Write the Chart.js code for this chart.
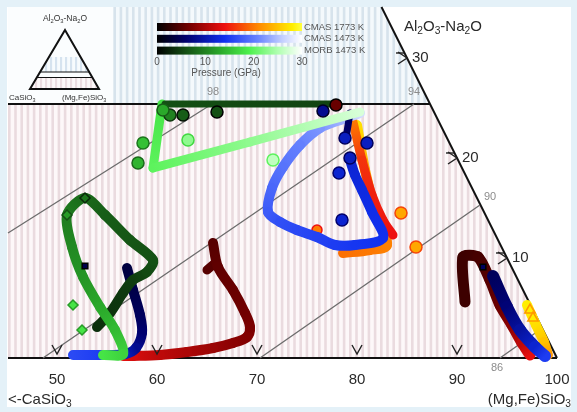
<!DOCTYPE html>
<html>
<head>
<meta charset="utf-8">
<script src="https://cdn.jsdelivr.net/npm/chart.js@4.4.1/dist/chart.umd.min.js"></script>
<style>
  html, body { margin: 0; padding: 0; background: #e4f1f8; }
</style>
</head>
<body>
<canvas id="tern" width="577" height="412"></canvas>
<script>
// axes: x = position on the (Mg,Fe)SiO3 scale, y = Al2O3-Na2O
const bottomTicks = [50, 60, 70, 80, 90, 100];
const rightTicks = [10, 20, 30];
const legendTicks = [0, 10, 20, 30];
const legendNames = ['CMAS 1773 K', 'CMAS 1473 K', 'MORB 1473 K'];
const splitAl = 25.4;

// iso lines (98, 94, 90, 86)
const isoNames = ['98', '94', '90', '86'];
const isoX0 = [45.1, 48.6, 70.3, 94.3];
const isoY0 = [12.5, 0, 0, 0];
const isoX1 = [65.5, 85.7, 92.3, 98.4];
const isoY1 = [25.4, 25.4, 15.3, 2.9];

// pressure ramps (GPa)
const rampRed = [[0, '#000000'], [7, '#7a0000'], [14, '#ee1010'], [21, '#ff8a00'], [28, '#ffee00'], [30, '#ffff40']];
const rampBlue = [[0, '#000000'], [6, '#00006e'], [14, '#1030f0'], [21, '#6a86ff'], [26, '#c4d0ff'], [30, '#ffffff']];
const rampGreen = [[0, '#000000'], [6, '#145014'], [13, '#2aa82a'], [19, '#4cf04c'], [25, '#b0ffb0'], [30, '#ffffff']];

// CMAS 1773 K paths
const hotJx = [65.6, 66.1, 67.6, 68.8, 69.3, 69.0, 67.6, 65.6, 63.0, 60.3, 57.6, 56.6];
const hotJy = [11.5, 9.1, 6.8, 4.5, 3.1, 2.1, 1.5, 1.0, 0.6, 0.3, 0.2, 0.2];
const hotJp = [5, 5.5, 6, 6.5, 7, 7.5, 8, 9, 10, 11, 12.5, 13.5];
const hotHookx = [65.0, 65.7];
const hotHooky = [8.8, 9.4];
const hotHookp = [5, 5];
const hotBandx = [79.6, 80.5, 81.5, 82.6, 83.6];
const hotBandy = [23.6, 19.8, 16.3, 13.8, 12.3];
const hotBandp = [20, 16, 15, 14.5, 14];
const hotBand2x = [80.0, 80.8, 81.8, 83.0, 81.3, 78.6];
const hotBand2y = [23.3, 18.8, 14.8, 11.3, 10.8, 10.5];
const hotBand2p = [27, 23, 21.5, 20.5, 20, 19.5];
const hotRx = [90.8, 90.6, 92.1, 93.3, 94.3, 95.5, 96.5, 97.3];
const hotRy = [5.6, 10.1, 10.1, 7.8, 5.3, 3.3, 1.5, 0.3];
const hotRp = [3.5, 3.5, 4, 5, 6, 8, 11, 13.5];
const hotYx = [97.0, 97.9, 98.7, 99.1];
const hotYy = [5.3, 3.3, 1.6, 0.3];
const hotYp = [28, 27, 25, 22];

// CMAS 1473 K paths
const kiteX = [80.3, 78.3, 76.3, 74.3, 72.6, 71.5, 71.1, 72.3, 74.0, 76.0, 77.8, 79.8, 82.6, 81.5, 80.5, 79.8, 79.3];
const kiteY = [24.5, 23.8, 23.0, 21.3, 19.1, 17.0, 14.6, 13.6, 12.8, 12.1, 11.3, 11.3, 12.0, 14.6, 16.8, 18.3, 19.8];
const kiteP = [27, 24, 22, 20.5, 19.5, 18.5, 17.5, 16.5, 16, 15.5, 15, 14.5, 14, 13.5, 13, 12.5, 12];
const coolTopx = [79.3, 78.9];
const coolTopy = [24.5, 22.0];
const coolTopp = [5, 6];
const coolRx = [93.6, 95.0, 96.3, 97.8, 98.8];
const coolRy = [8.2, 5.1, 2.8, 1.1, 0.2];
const coolRp = [5, 6.5, 9, 12, 15];
const coolLx = [57.0, 57.6, 58.3, 58.5, 57.9, 56.8, 54.3, 51.6];
const coolLy = [9.0, 6.8, 4.3, 2.5, 1.0, 0.4, 0.3, 0.3];
const coolLp = [3.5, 4, 5, 6, 8, 11, 15, 16];

// MORB 1473 K paths
const loopX = [54.0, 55.3, 56.6, 57.6, 59.0, 59.6, 57.3, 54.8, 52.8, 51.0, 51.5, 52.6, 54.3, 55.8, 56.6, 54.6];
const loopY = [3.1, 4.5, 6.5, 7.8, 8.6, 9.8, 11.8, 14.3, 16.0, 14.3, 11.1, 8.1, 5.1, 2.8, 0.4, 0.3];
const loopP = [3.5, 3.8, 4.2, 4.6, 5.5, 6, 6.5, 7, 8, 9.5, 10.5, 11.5, 13, 14.5, 16.5, 18];
const barX = [77.8, 60.8];
const barY = [25.4, 25.4];
const barP = [5, 6];
const triX = [60.5, 59.6, 69.3, 80.3];
const triY = [25.4, 19.0, 21.6, 24.6];
const triP = [18, 20, 23, 27.5];

// single measurements
const greenDotX = [58.6, 58.1, 63.1, 71.6, 61.3, 62.6, 66.0, 60.6];
const greenDotY = [21.5, 19.5, 21.8, 19.8, 24.3, 24.3, 24.6, 24.8];
const greenDotP = [15, 14, 23, 26, 10, 7, 6, 13];
const greenDiaX = [52.8, 51.0, 51.6, 52.5];
const greenDiaY = [16.0, 14.3, 5.3, 2.8];
const greenDiaP = [9, 12, 18, 18];
const blueDotX = [76.6, 78.8, 81.0, 79.3, 78.2, 78.5];
const blueDotY = [24.7, 22.0, 21.5, 20.0, 18.5, 13.8];
const blueDotP = [8, 11, 11, 11, 12, 12];
const blueSqX = [52.8, 92.6];
const blueSqY = [9.2, 9.1];
const blueSqP = [4, 5];
const redDotX = [77.9, 84.4, 85.9];
const redDotY = [25.3, 14.5, 11.1];
const redDotP = [6, 23, 23];
const tanDotX = [76.0];
const tanDotY = [12.8];
const tanDotP = [20];
const yelTriX = [97.3, 97.6];
const yelTriY = [4.8, 4.0];
const yelTriP = [28, 28];

const FONT = '"Liberation Sans", Arial, sans-serif';

function hex(c) { return [1, 3, 5].map(i => parseInt(c.slice(i, i + 2), 16)); }
function rampColor(ramp, p) {
    p = Math.max(ramp[0][0], Math.min(ramp[ramp.length - 1][0], p));
    for (let i = 1; i < ramp.length; i++) {
        if (p <= ramp[i][0]) {
            const [p0, c0] = ramp[i - 1], [p1, c1] = ramp[i];
            const t = (p - p0) / (p1 - p0);
            const a = hex(c0), b = hex(c1);
            return 'rgb(' + a.map((v, k) => Math.round(v + (b[k] - v) * t)).join(',') + ')';
        }
    }
    return ramp[ramp.length - 1][1];
}

function track(xs, ys, ps, ramp, width, order, tension) {
    return {
        type: 'line',
        data: xs.map((x, i) => ({ x, y: ys[i], p: ps[i] })),
        borderWidth: width,
        borderCapStyle: 'round',
        borderJoinStyle: 'round',
        pointRadius: 0,
        tension: tension === undefined ? 0.35 : tension,
        order,
        segment: {
            borderColor: c => {
                const g = c.chart.ctx.createLinearGradient(c.p0.x, c.p0.y, c.p1.x, c.p1.y);
                g.addColorStop(0, rampColor(ramp, c.p0.raw.p));
                g.addColorStop(1, rampColor(ramp, c.p1.raw.p));
                return g;
            }
        }
    };
}

function dots(xs, ys, ps, ramp, style, radius, order) {
    return {
        type: 'scatter',
        data: xs.map((x, i) => ({ x, y: ys[i] })),
        pointStyle: style,
        pointRadius: radius,
        pointBackgroundColor: ps.map(p => rampColor(ramp, p)),
        pointBorderColor: ps.map(p => rampColor(ramp, Math.max(0, p - 6))),
        pointBorderWidth: 1.5,
        order
    };
}

function plain(pts, color, width, order) {
    return { type: 'line', data: pts, borderColor: color, borderWidth: width, pointRadius: 0, tension: 0, order };
}

const datasets = [
    plain([{ x: 45.1, y: 0 }, { x: 100, y: 0 }], '#111', 2, 100),
    plain([{ x: 100, y: 0 }, { x: 100 - 35.1 / 2, y: 35.1 }], '#111', 2, 100),
    plain([{ x: 45.1, y: splitAl }, { x: 100 - splitAl / 2, y: splitAl }], '#111', 1.8, 100),
    ...isoNames.map((n, i) => plain([{ x: isoX0[i], y: isoY0[i] }, { x: isoX1[i], y: isoY1[i] }], '#6c6c6c', 1.3, 99)),

    dots(tanDotX, tanDotY, tanDotP, rampRed, 'circle', 5, 70),
    track(hotBand2x, hotBand2y, hotBand2p, rampRed, 10, 60),
    track(hotBandx, hotBandy, hotBandp, rampRed, 9, 59),
    track(hotJx, hotJy, hotJp, rampRed, 10, 55),
    track(hotHookx, hotHooky, hotHookp, rampRed, 9, 55, 0),
    track(hotRx, hotRy, hotRp, rampRed, 11, 55, 0.25),
    track(hotYx, hotYy, hotYp, rampRed, 10, 56),
    track(coolRx, coolRy, coolRp, rampBlue, 12, 52),
    track(coolLx, coolLy, coolLp, rampBlue, 10, 50),
    track(kiteX, kiteY, kiteP, rampBlue, 10, 48, 0.3),
    track(coolTopx, coolTopy, coolTopp, rampBlue, 7, 47, 0),
    track(loopX, loopY, loopP, rampGreen, 10, 44, 0.3),
    track(triX, triY, triP, rampGreen, 9, 42, 0),
    track(barX, barY, barP, rampGreen, 7, 41, 0),

    dots(greenDotX, greenDotY, greenDotP, rampGreen, 'circle', 6, 10),
    dots(greenDiaX, greenDiaY, greenDiaP, rampGreen, 'rectRot', 5, 10),
    dots(blueDotX, blueDotY, blueDotP, rampBlue, 'circle', 6, 10),
    dots(blueSqX, blueSqY, blueSqP, rampBlue, 'rect', 4, 10),
    dots(redDotX, redDotY, redDotP, rampRed, 'circle', 6, 10),
    dots(yelTriX, yelTriY, yelTriP, rampRed, 'triangle', 6, 10)
];

function stripeFill(ctx, x0, y0, x1, y1, bg, fg, step) {
    ctx.fillStyle = bg;
    ctx.fillRect(x0, y0, x1 - x0, y1 - y0);
    ctx.fillStyle = fg;
    for (let sx = x0; sx < x1; sx += step) ctx.fillRect(sx, y0, step * 0.42, y1 - y0);
}

function subText(ctx, str, x, y, size, align) {
    const parts = [];
    for (let i = 0; i < str.length; i++) {
        if (str[i] === '_') { parts.push([str[i + 1], true]); i++; }
        else parts.push([str[i], false]);
    }
    const big = size + 'px ' + FONT, small = (size * 0.68).toFixed(1) + 'px ' + FONT;
    let w = 0;
    parts.forEach(([ch, sub]) => { ctx.font = sub ? small : big; w += ctx.measureText(ch).width; });
    let cx = align === 'center' ? x - w / 2 : align === 'right' ? x - w : x;
    ctx.textAlign = 'left';
    ctx.textBaseline = 'middle';
    parts.forEach(([ch, sub]) => {
        ctx.font = sub ? small : big;
        ctx.fillText(ch, cx, sub ? y + size * 0.3 : y);
        cx += ctx.measureText(ch).width;
    });
}

const backdrop = {
    id: 'backdrop',
    beforeDatasetsDraw(chart) {
        const { ctx, scales: { x, y } } = chart;
        const W = chart.width, H = chart.height;
        const edgeX = a => x.getPixelForValue(100 - a / 2);
        const left = x.getPixelForValue(45.1);
        const base = y.getPixelForValue(0), cut = y.getPixelForValue(splitAl), top = y.getPixelForValue(35.1);
        ctx.save();
        ctx.fillStyle = '#e4f1f8';
        ctx.fillRect(0, 0, W, H);
        ctx.fillStyle = '#ffffff';
        ctx.fillRect(7, 7, W - 13, H - 12);

        // upper band
        ctx.save();
        ctx.beginPath();
        ctx.moveTo(left, top); ctx.lineTo(edgeX(35.1), top); ctx.lineTo(edgeX(splitAl), cut); ctx.lineTo(left, cut);
        ctx.closePath(); ctx.clip();
        stripeFill(ctx, left, top, W, cut, '#f4f9fc', '#d7e3ec', 6.2);
        ctx.restore();

        // lower band
        ctx.save();
        ctx.beginPath();
        ctx.moveTo(left, cut); ctx.lineTo(edgeX(splitAl), cut); ctx.lineTo(edgeX(0), base); ctx.lineTo(left, base);
        ctx.closePath(); ctx.clip();
        stripeFill(ctx, left, cut, W, base, '#fdf8f9', '#eadbdf', 6.2);
        ctx.restore();

        // small key triangle
        ctx.fillStyle = '#fbfdfe';
        ctx.fillRect(left, top, 105, cut - top - 1);
        const ax = 65, ay = 30, bl = 30, br = 99, by = 89;
        const lx = yy => ax - (yy - ay) * (ax - bl) / (by - ay);
        const rx = yy => ax + (yy - ay) * (br - ax) / (by - ay);
        ctx.save();
        ctx.beginPath(); ctx.moveTo(ax, ay); ctx.lineTo(br, by); ctx.lineTo(bl, by); ctx.closePath(); ctx.clip();
        stripeFill(ctx, 30, 57, 100, 72, '#f7fbfd', '#d6e3ef', 5);
        stripeFill(ctx, 30, 77.5, 100, 89, '#fdf8f9', '#ecdde1', 5);
        ctx.restore();
        ctx.strokeStyle = '#111';
        ctx.lineWidth = 2;
        ctx.beginPath(); ctx.moveTo(ax, ay); ctx.lineTo(br, by); ctx.lineTo(bl, by); ctx.closePath(); ctx.stroke();
        ctx.lineWidth = 1.2;
        [72, 77.5].forEach(yy => { ctx.beginPath(); ctx.moveTo(lx(yy), yy); ctx.lineTo(rx(yy), yy); ctx.stroke(); });
        ctx.fillStyle = '#333';
        subText(ctx, 'Al_2O_3-Na_2O', 65, 19, 8.5, 'center');
        subText(ctx, 'CaSiO_3', 9, 98, 8, 'left');
        subText(ctx, '(Mg,Fe)SiO_3', 62, 98, 8, 'left');

        // pressure key
        const kx0 = 157, kx1 = 302;
        [rampRed, rampBlue, rampGreen].forEach((ramp, i) => {
            const g = ctx.createLinearGradient(kx0, 0, kx1, 0);
            ramp.forEach(([p, c]) => g.addColorStop(p / 30, c));
            ctx.fillStyle = g;
            ctx.fillRect(kx0, 23 + i * 11.8, kx1 - kx0, 8);
            ctx.fillStyle = '#555';
            ctx.font = '9.5px ' + FONT;
            ctx.textAlign = 'left';
            ctx.textBaseline = 'middle';
            ctx.fillText(legendNames[i], kx1 + 2, 27 + i * 11.8);
        });
        ctx.font = '10px ' + FONT;
        ctx.textAlign = 'center';
        legendTicks.forEach(t => ctx.fillText(String(t), kx0 + (kx1 - kx0) * t / 30, 62));
        ctx.fillText('Pressure (GPa)', 226, 73);
        ctx.restore();
    }
};

const annotate = {
    id: 'annotate',
    afterDatasetsDraw(chart) {
        const { ctx, scales: { x, y } } = chart;
        const base = y.getPixelForValue(0);
        ctx.save();
        ctx.strokeStyle = '#222';
        ctx.lineWidth = 1.4;
        bottomTicks.slice(0, -1).forEach(t => {
            const tx = x.getPixelForValue(t);
            ctx.beginPath(); ctx.moveTo(tx - 5, base - 13); ctx.lineTo(tx, base - 4); ctx.lineTo(tx + 5, base - 13); ctx.stroke();
        });
        rightTicks.forEach(a => {
            const ex = x.getPixelForValue(100 - a / 2), ey = y.getPixelForValue(a);
            ctx.beginPath(); ctx.moveTo(ex - 9, ey - 6); ctx.lineTo(ex, ey); ctx.lineTo(ex - 9, ey + 6); ctx.stroke();
            ctx.beginPath(); ctx.moveTo(ex - 11, ey - 5); ctx.lineTo(ex - 3, ey - 5); ctx.stroke();
        });
        ctx.fillStyle = '#2a2a2a';
        ctx.font = '15px ' + FONT;
        ctx.textAlign = 'center';
        ctx.textBaseline = 'middle';
        bottomTicks.forEach(t => ctx.fillText(String(t), x.getPixelForValue(t), base + 22));
        ctx.textAlign = 'left';
        rightTicks.forEach(a => ctx.fillText(String(a), x.getPixelForValue(100 - a / 2) + 5, y.getPixelForValue(a)));
        subText(ctx, '<-CaSiO_3', 8, base + 42, 15, 'left');
        subText(ctx, '(Mg,Fe)SiO_3', 571, base + 42, 15, 'right');
        subText(ctx, 'Al_2O_3-Na_2O', 404, 27, 15, 'left');

        // iso line labels
        const isoOff = [[1, -12], [0, -12], [10, -8], [-3, 10]];
        ctx.fillStyle = '#8c8c8c';
        ctx.font = '11px ' + FONT;
        ctx.textAlign = 'center';
        isoNames.forEach((n, i) => {
            const useEnd = i < 3;
            const px = x.getPixelForValue(useEnd ? isoX1[i] : isoX0[i]);
            const py = y.getPixelForValue(useEnd ? isoY1[i] : isoY0[i]);
            ctx.fillText(n, px + isoOff[i][0], py + isoOff[i][1]);
        });
        ctx.restore();
    }
};

new Chart(document.getElementById('tern'), {
    type: 'scatter',
    data: { datasets },
    options: {
        responsive: false,
        animation: false,
        devicePixelRatio: 1,
        events: [],
        layout: { padding: 0, autoPadding: false },
        plugins: { legend: { display: false }, tooltip: { enabled: false } },
        scales: {
            x: { type: 'linear', min: 44.3, max: 102, display: false },
            y: { type: 'linear', min: -5.4, max: 35.8, display: false }
        }
    },
    plugins: [backdrop, annotate]
});
</script>
</body>
</html>
